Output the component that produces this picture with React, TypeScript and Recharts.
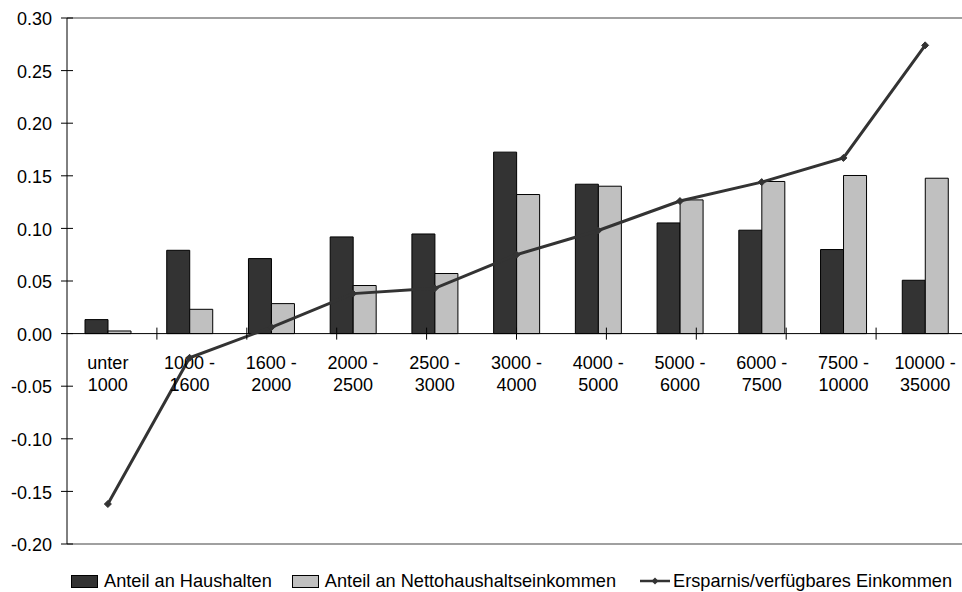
import React from "react";
import {
  ComposedChart,
  Bar,
  Line,
  XAxis,
  YAxis,
  ReferenceLine,
  ReferenceDot,
  Legend,
} from "recharts";

const categories = [
  "unter\n1000",
  "1000 -\n1600",
  "1600 -\n2000",
  "2000 -\n2500",
  "2500 -\n3000",
  "3000 -\n4000",
  "4000 -\n5000",
  "5000 -\n6000",
  "6000 -\n7500",
  "7500 -\n10000",
  "10000 -\n35000",
];
const anteilHaushalte = [0.0133, 0.0792, 0.0713, 0.0919, 0.0947, 0.1725, 0.142, 0.1052, 0.0983, 0.0799, 0.0507];
const anteilEinkommen = [0.0025, 0.0231, 0.0285, 0.0457, 0.0571, 0.1322, 0.1401, 0.1271, 0.1446, 0.1503, 0.1477];
const ersparnis = [-0.162, -0.023, 0.006, 0.038, 0.043, 0.075, 0.098, 0.126, 0.144, 0.167, 0.274];
const yTicks = [-0.2, -0.15, -0.1, -0.05, 0, 0.05, 0.1, 0.15, 0.2, 0.25, 0.3];
const boundaries = [1, 2, 3, 4, 5, 6, 7, 8, 9, 10];

const seriesNames = {
  h: "Anteil an Haushalten",
  e: "Anteil an Nettohaushaltseinkommen",
  s: "Ersparnis/verfügbares Einkommen",
};

const data = categories.map((cat, i) => ({
  cat,
  h: anteilHaushalte[i],
  e: anteilEinkommen[i],
  s: ersparnis[i],
}));

const FONT = "'Liberation Sans', Arial, sans-serif";
const DARK = "#333333";
const LIGHT = "#c0c0c0";
const TICK_SIZE = 6;
const TICK_MARGIN = 9;

const YTick = (p: any) => {
  const ax = p.x + TICK_SIZE + TICK_MARGIN;
  return (
    <g>
      <line x1={ax - 6} x2={ax + 6} y1={p.y} y2={p.y} stroke="#000" strokeWidth={1} />
      <text x={p.x} y={p.y} dy="0.4em" textAnchor="end" fontSize={18} fontFamily={FONT} fill="#000">
        {Number(p.payload.value).toFixed(2)}
      </text>
    </g>
  );
};

const Diamond = (p: any) => {
  if (p.cx == null || p.cy == null) return <g key={p.index} />;
  const s = 3.5;
  return (
    <polygon
      key={p.index}
      points={`${p.cx},${p.cy - s} ${p.cx + s},${p.cy} ${p.cx},${p.cy + s} ${p.cx - s},${p.cy}`}
      fill={DARK}
      stroke={DARK}
    />
  );
};

const renderLegend = () => (
  <div
    style={{
      paddingTop: 26,
      height: 22,
      display: "flex",
      alignItems: "center",
      fontFamily: FONT,
      fontSize: 18.2,
      color: "#000",
      whiteSpace: "nowrap",
    }}
  >
    <span style={{ display: "inline-block", width: 25, height: 11, background: DARK, border: "1px solid #000" }} />
    <span style={{ marginLeft: 6 }}>{seriesNames.h}</span>
    <span style={{ display: "inline-block", width: 25, height: 11, background: LIGHT, border: "1px solid #000", marginLeft: 20 }} />
    <span style={{ marginLeft: 6 }}>{seriesNames.e}</span>
    <svg width={30} height={14} style={{ marginLeft: 24 }}>
      <line x1={0} x2={30} y1={7} y2={7} stroke={DARK} strokeWidth={2.5} />
      <polygon points="15,3.5 18.5,7 15,10.5 11.5,7" fill={DARK} />
    </svg>
    <span style={{ marginLeft: 3 }}>{seriesNames.s}</span>
  </div>
);

export default function App() {
  return (
    <div style={{ position: "absolute", left: 0, top: 0, width: 962, height: 592, overflow: "hidden", background: "#fff" }}>
      <ComposedChart
        width={980}
        height={592}
        data={data}
        margin={{ top: 18, right: 14, bottom: 0, left: 0 }}
        barGap={0}
        barSize={23}
      >
        <XAxis dataKey="cat" hide />
        <XAxis xAxisId="b" type="number" domain={[0, 11]} allowDataOverflow hide />
        <YAxis
          width={67}
          domain={[-0.2, 0.3]}
          ticks={yTicks}
          interval={0}
          allowDataOverflow
          axisLine={{ stroke: "#000", strokeWidth: 1 }}
          tickLine={false}
          tickSize={TICK_SIZE}
          tickMargin={TICK_MARGIN}
          tick={<YTick />}
        />
        <ReferenceLine y={0.3} stroke="#808080" strokeWidth={1.5} />
        <ReferenceLine y={-0.2} stroke="#808080" strokeWidth={1.5} />
        <Bar dataKey="h" name={seriesNames.h} fill={DARK} stroke="#000" strokeWidth={1} isAnimationActive={false} />
        <Bar dataKey="e" name={seriesNames.e} fill={LIGHT} stroke="#000" strokeWidth={1} isAnimationActive={false} />
        <ReferenceLine y={0} stroke="#000" strokeWidth={1} />
        {boundaries.map((b) => (
          <ReferenceDot
            key={"b" + b}
            xAxisId="b"
            x={b}
            y={0}
            r={0}
            shape={(p: any) => (
              <line x1={p.cx} x2={p.cx} y1={p.cy - 6} y2={p.cy + 6} stroke="#000" strokeWidth={1} />
            )}
          />
        ))}
        {categories.map((c) => (
          <ReferenceDot
            key={"c" + c}
            x={c}
            y={0}
            r={0}
            shape={(p: any) => {
              const lines = c.split("\n");
              return (
                <g>
                  <text x={p.cx} y={p.cy + 35.7} textAnchor="middle" fontSize={18} fontFamily={FONT} fill="#000">
                    {lines[0]}
                  </text>
                  <text x={p.cx} y={p.cy + 57.4} textAnchor="middle" fontSize={18} fontFamily={FONT} fill="#000">
                    {lines[1]}
                  </text>
                </g>
              );
            }}
          />
        ))}
        <Line
          dataKey="s"
          name={seriesNames.s}
          stroke={DARK}
          strokeWidth={3}
          dot={Diamond}
          activeDot={false}
          isAnimationActive={false}
        />
        <Legend verticalAlign="bottom" content={renderLegend} wrapperStyle={{ left: 71, width: 900 }} />
      </ComposedChart>
    </div>
  );
}
